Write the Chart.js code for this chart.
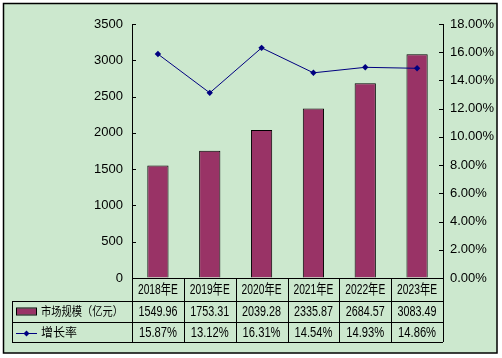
<!DOCTYPE html>
<html>
<head>
<meta charset="utf-8">
<script src="https://cdn.jsdelivr.net/npm/chart.js@4.4.0/dist/chart.umd.min.js"></script>
<style>
html,body{margin:0;padding:0;background:#fff;}
canvas{display:block;}
</style>
</head>
<body>
<canvas id="c" width="502" height="358"></canvas>
<script>
const categories = ['2018年E', '2019年E', '2020年E', '2021年E', '2022年E', '2023年E'];
const marketSize = [1549.96, 1753.31, 2039.28, 2335.87, 2684.57, 3083.49];
const growthRate = [15.87, 13.12, 16.31, 14.54, 14.93, 14.86];
const marketLabels = ['1549.96', '1753.31', '2039.28', '2335.87', '2684.57', '3083.49'];
const growthLabels = ['15.87%', '13.12%', '16.31%', '14.54%', '14.93%', '14.86%'];
const seriesNames = ['市场规模（亿元）', '增长率'];

const BG = 'rgb(204,232,206)';
const BAR = '#993366';
const LINE = '#000080';
const FONT_FAMILY = '"Liberation Sans", Arial, "Noto Sans CJK SC", sans-serif';

const tablePlugin = {
  id: 'tablePlugin',
  beforeDraw(chart) {
    const ctx = chart.ctx;
    ctx.save();
    ctx.fillStyle = '#fff';
    ctx.fillRect(0, 0, chart.width, chart.height);
    ctx.fillStyle = BG;
    ctx.fillRect(3, 3, 494, 350);
    ctx.strokeStyle = '#000';
    ctx.lineWidth = 1.5;
    ctx.strokeRect(3.5, 3.5, 493.5, 349.5);
    ctx.restore();
  },
  afterDraw(chart) {
    const ctx = chart.ctx;
    const xs = chart.scales.x, ys = chart.scales.y, y1 = chart.scales.y1;
    const ca = chart.chartArea;
    ctx.save();
    ctx.strokeStyle = '#000';
    ctx.lineWidth = 1;
    // inner ticks
    ys.ticks.forEach(t => {
      const py = Math.round(ys.getPixelForValue(t.value)) + 0.5;
      ctx.beginPath(); ctx.moveTo(ca.left, py); ctx.lineTo(ca.left + 4, py); ctx.stroke();
    });
    y1.ticks.forEach(t => {
      const py = Math.round(y1.getPixelForValue(t.value)) + 0.5;
      ctx.beginPath(); ctx.moveTo(ca.right, py); ctx.lineTo(ca.right - 4, py); ctx.stroke();
    });
    // table grid
    const half = (xs.getPixelForValue(1) - xs.getPixelForValue(0)) / 2;
    const rows = [ca.bottom, ca.bottom + 23, ca.bottom + 44, ca.bottom + 64];
    const tableLeft = 12;
    const h = v => Math.round(v) + 0.5;
    ctx.beginPath();
    ctx.moveTo(ca.left, h(rows[0])); ctx.lineTo(ca.right, h(rows[0]));
    for (let r = 1; r < rows.length; r++) {
      ctx.moveTo(tableLeft, h(rows[r])); ctx.lineTo(ca.right, h(rows[r]));
    }
    ctx.moveTo(h(tableLeft), rows[1]); ctx.lineTo(h(tableLeft), rows[3]);
    for (let i = 0; i <= categories.length; i++) {
      const bx = h(xs.getPixelForValue(0) - half + i * 2 * half);
      ctx.moveTo(bx, rows[0]); ctx.lineTo(bx, rows[3]);
    }
    ctx.stroke();
    // texts
    ctx.fillStyle = '#000';
    ctx.textAlign = 'center';
    ctx.textBaseline = 'middle';
    ctx.font = '14px ' + FONT_FAMILY;
    categories.forEach((c, i) => {
      const cx = xs.getPixelForValue(i);
      ctx.fillText(c, cx, (rows[0] + rows[1]) / 2 + 1, 40);
      ctx.fillText(marketLabels[i], cx, (rows[1] + rows[2]) / 2 + 1, 39);
      ctx.fillText(growthLabels[i], cx, (rows[2] + rows[3]) / 2 + 1, 38);
    });
    // row labels with legend symbols
    const r2 = (rows[1] + rows[2]) / 2, r3 = (rows[2] + rows[3]) / 2;
    ctx.fillStyle = BAR;
    ctx.fillRect(17, r2 - 3, 19, 6);
    ctx.strokeStyle = '#000';
    ctx.strokeRect(16.5, r2 - 3.5, 20, 7);
    ctx.strokeStyle = LINE;
    ctx.beginPath(); ctx.moveTo(16, h(r3 + 1)); ctx.lineTo(37, h(r3 + 1)); ctx.stroke();
    ctx.fillStyle = LINE;
    ctx.beginPath();
    const dx = 26.5, dy = r3 + 1.5;
    ctx.moveTo(dx, dy - 3); ctx.lineTo(dx + 3, dy); ctx.lineTo(dx, dy + 3); ctx.lineTo(dx - 3, dy); ctx.closePath(); ctx.fill();
    ctx.fillStyle = '#000';
    ctx.textAlign = 'left';
    ctx.font = '12px "Noto Sans CJK SC", sans-serif';
    ctx.fillText(seriesNames[0], 41, r2, 82);
    ctx.fillText(seriesNames[1], 41, r3, 82);
    ctx.restore();
  }
};

new Chart(document.getElementById('c'), {
  data: {
    labels: categories,
    datasets: [
      {
        type: 'line', label: seriesNames[1], data: growthRate, yAxisID: 'y1',
        borderColor: LINE, backgroundColor: LINE, borderWidth: 1,
        pointStyle: 'rectRot', pointRadius: 3.2, pointBorderWidth: 0,
        tension: 0, order: 0
      },
      {
        type: 'bar', label: seriesNames[0], data: marketSize, yAxisID: 'y',
        backgroundColor: BAR, borderColor: '#000', borderWidth: 1,
        barPercentage: 0.41, categoryPercentage: 1, order: 1
      }
    ]
  },
  options: {
    responsive: false, animation: false, devicePixelRatio: 1,
    layout: { padding: { left: 0, right: 0, top: 24, bottom: 80 }, autoPadding: false },
    plugins: { legend: { display: false }, tooltip: { enabled: false } },
    scales: {
      x: { display: false, offset: true },
      y: {
        position: 'left', min: 0, max: 3500,
        ticks: { stepSize: 500, color: '#000', padding: 9, font: { size: 13, family: FONT_FAMILY },
          callback: v => String(v) },
        grid: { display: true, drawOnChartArea: false, drawTicks: false },
        border: { display: true, color: '#000', width: 1 },
        afterFit: s => { s.width = 132; }
      },
      y1: {
        position: 'right', min: 0, max: 18,
        ticks: { stepSize: 2, color: '#000', padding: 7, font: { size: 13, family: FONT_FAMILY },
          callback: v => v.toFixed(2) + '%' },
        grid: { display: true, drawOnChartArea: false, drawTicks: false },
        border: { display: true, color: '#000', width: 1 },
        afterFit: s => { s.width = 59; }
      }
    }
  },
  plugins: [tablePlugin]
});
</script>
</body>
</html>
